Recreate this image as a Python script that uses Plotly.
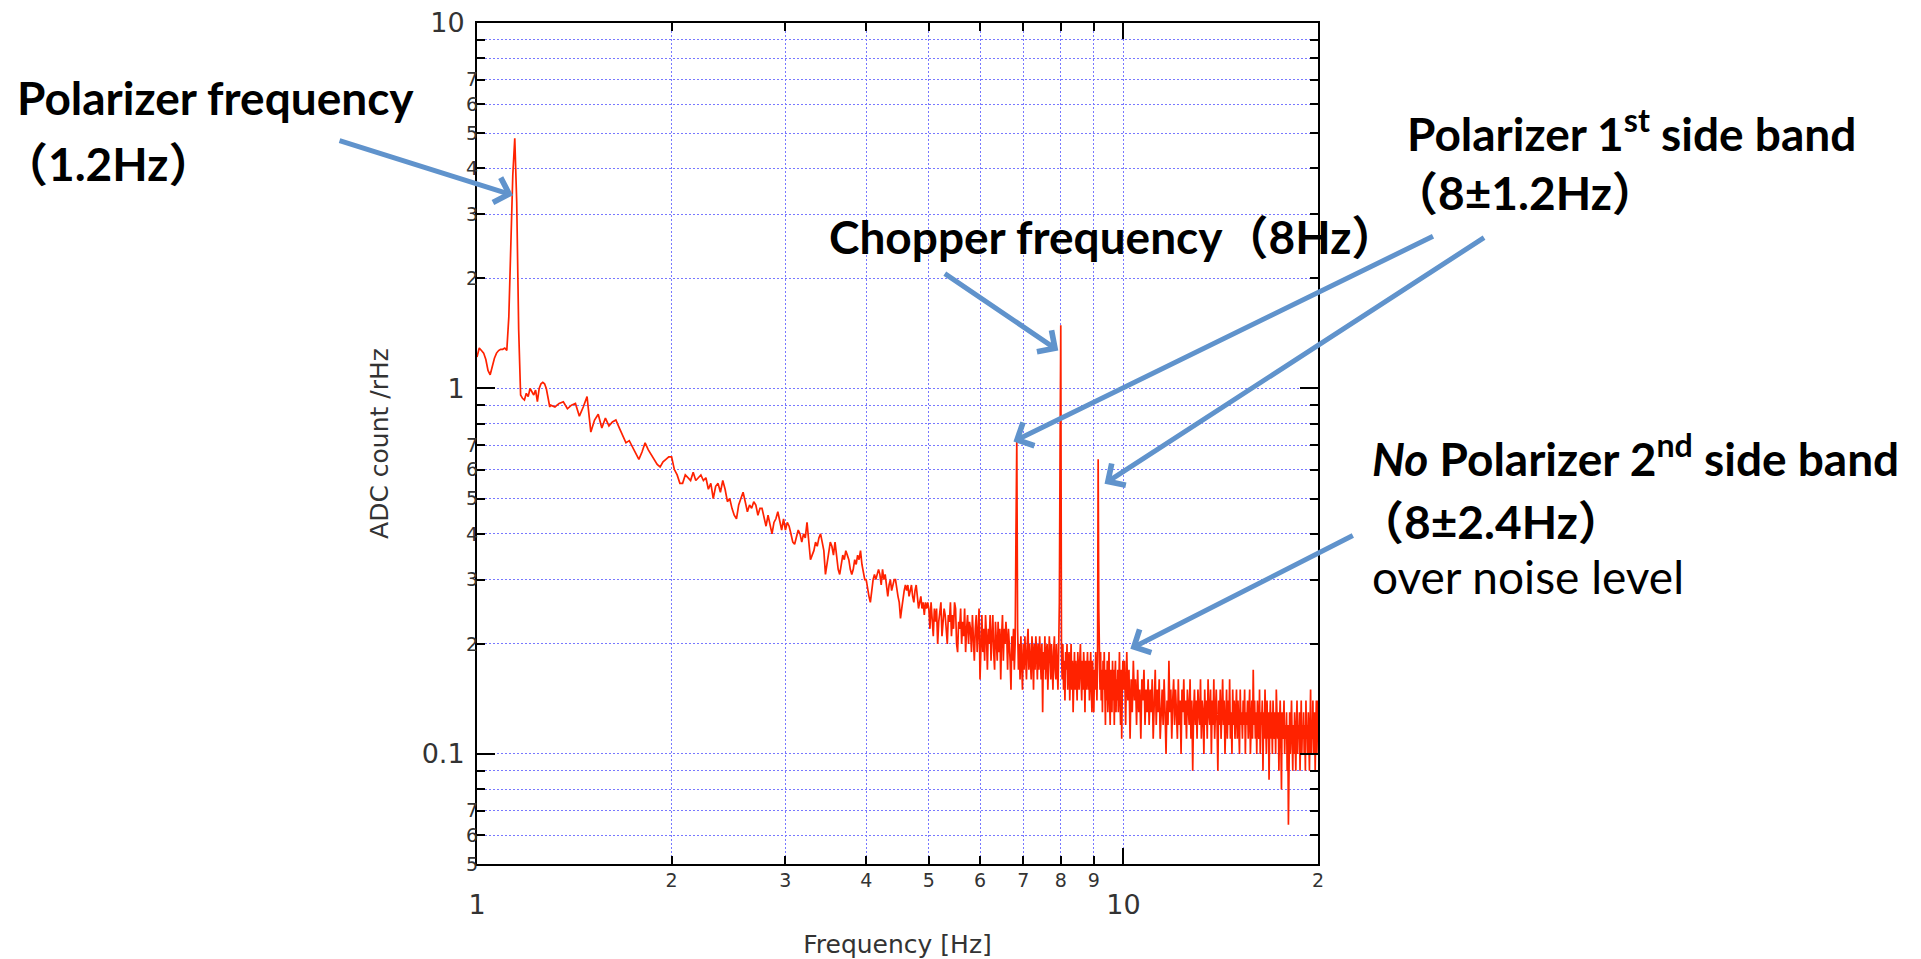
import numpy as np
import plotly.graph_objects as go

# ---------------- data ----------------
# amplitude spectrum, ADC count / rHz, on regular frequency grids
seg0_start, seg0_step = 1.00, 0.008   # fine bins around the polarizer line
amp_seg0 = [1.22, 1.29, 1.27, 1.25, 1.20, 1.12, 1.09, 1.15, 1.21, 1.25,
            1.27, 1.28, 1.28, 1.29, 1.27, 1.57, 2.45, 3.84, 4.84, 3.24,
            1.45, 0.96, 0.94, 0.93, 0.97, 0.95, 1.00, 0.98, 0.96, 0.99,
            0.92, 1.00, 1.03, 1.04, 1.03, 1.00, 0.93, 0.89]

seg1_start, seg1_step = 1.30, 0.02
amp_seg1 = [0.90, 0.89, 0.91, 0.92, 0.88, 0.90, 0.91, 0.84, 0.89, 0.95,
            0.76, 0.82, 0.85, 0.78, 0.83, 0.79, 0.81, 0.82, 0.78, 0.74,
            0.71, 0.72, 0.69, 0.66, 0.64, 0.67, 0.71, 0.68, 0.66, 0.64,
            0.62, 0.61, 0.63, 0.64, 0.65]

seg2_start, seg2_step = 2.00, 0.02
amp_seg2 = [0.65, 0.60, 0.58, 0.55, 0.55, 0.58, 0.57, 0.56, 0.59, 0.56,
            0.57, 0.58, 0.56, 0.57, 0.53, 0.55, 0.50, 0.54, 0.55, 0.52,
            0.56, 0.53, 0.49, 0.50, 0.47, 0.45, 0.44, 0.48, 0.50, 0.52,
            0.49, 0.46, 0.48, 0.47, 0.49, 0.48, 0.45, 0.47, 0.47, 0.44,
            0.42, 0.45, 0.42, 0.40, 0.43, 0.44, 0.46, 0.43, 0.41, 0.44,
            0.41, 0.43, 0.42, 0.40, 0.38, 0.375, 0.39, 0.41, 0.40, 0.38,
            0.40, 0.39, 0.43, 0.37, 0.34, 0.35, 0.36, 0.38, 0.37, 0.39,
            0.40, 0.38, 0.36, 0.31, 0.33, 0.36, 0.38, 0.37, 0.35, 0.38,
            0.34, 0.32, 0.31, 0.33, 0.35, 0.34, 0.36, 0.35, 0.34, 0.32,
            0.31, 0.32, 0.34, 0.33, 0.35, 0.34, 0.36, 0.33, 0.31, 0.30,
            0.30, 0.28, 0.27, 0.26, 0.28, 0.30, 0.31, 0.30, 0.31, 0.32,
            0.31, 0.29, 0.32, 0.30, 0.31, 0.29, 0.27, 0.29, 0.30, 0.28,
            0.29, 0.30, 0.30, 0.28, 0.27, 0.26, 0.235, 0.25, 0.27, 0.28,
            0.29, 0.28, 0.29, 0.27, 0.28, 0.29, 0.27, 0.26, 0.28, 0.29,
            0.27, 0.25, 0.26, 0.27, 0.25, 0.26, 0.24, 0.26, 0.25, 0.26]

seg3_start, seg3_step = 5.00, 0.02
amp_seg3 = [0.25, 0.22, 0.26, 0.24, 0.21, 0.25, 0.23, 0.25, 0.20, 0.23,
            0.25, 0.26, 0.21, 0.23, 0.25, 0.24, 0.21, 0.20, 0.24, 0.23,
            0.26, 0.21, 0.24, 0.22, 0.26, 0.25, 0.20, 0.19, 0.23, 0.22,
            0.25, 0.20, 0.23, 0.21, 0.25, 0.19, 0.22, 0.24, 0.20, 0.23,
            0.22, 0.19, 0.24, 0.21, 0.18, 0.22, 0.24, 0.19, 0.22, 0.25,
            0.16, 0.21, 0.24, 0.19, 0.22, 0.18, 0.24, 0.21, 0.17, 0.22,
            0.20, 0.24, 0.18, 0.21, 0.24, 0.19, 0.17, 0.23, 0.21, 0.18,
            0.23, 0.19, 0.22, 0.16, 0.21, 0.24, 0.18, 0.22, 0.20, 0.23,
            0.21, 0.17, 0.22, 0.20, 0.18, 0.15, 0.21, 0.18, 0.22, 0.17,
            0.20, 0.40, 0.72, 0.22, 0.17, 0.20, 0.16, 0.21, 0.18, 0.15,
            0.20, 0.17, 0.21, 0.19, 0.16, 0.20, 0.22, 0.17, 0.20, 0.18,
            0.16, 0.21, 0.19, 0.15, 0.20, 0.17, 0.21, 0.19, 0.16, 0.20,
            0.17, 0.21, 0.19, 0.16, 0.20, 0.13, 0.19, 0.17, 0.21, 0.16,
            0.19, 0.20, 0.15, 0.18, 0.21, 0.19, 0.16, 0.20, 0.17, 0.15,
            0.19, 0.21, 0.17, 0.16, 0.20, 0.18, 0.15, 0.19, 0.26, 0.66,
            1.49, 0.19, 0.16, 0.20, 0.15, 0.18, 0.14, 0.19, 0.17, 0.20,
            0.15, 0.18, 0.19, 0.14, 0.17, 0.20, 0.15, 0.18, 0.13, 0.17,
            0.19, 0.15, 0.18, 0.16, 0.14, 0.19, 0.17, 0.15, 0.18, 0.20,
            0.16, 0.14, 0.18, 0.15, 0.19, 0.17, 0.13, 0.18, 0.15, 0.17,
            0.19, 0.15, 0.18, 0.14, 0.17, 0.19, 0.15, 0.13, 0.18, 0.16,
            0.13, 0.17, 0.15, 0.19, 0.16, 0.14, 0.18, 0.64, 0.25, 0.17,
            0.15, 0.19, 0.14, 0.17, 0.13, 0.18, 0.15, 0.19, 0.14, 0.12,
            0.17, 0.14, 0.18, 0.13, 0.16, 0.19, 0.14, 0.12, 0.17, 0.15,
            0.13, 0.18, 0.14, 0.17, 0.12, 0.16, 0.18, 0.13, 0.16, 0.14,
            0.17, 0.13, 0.16, 0.19, 0.14, 0.12, 0.17, 0.11, 0.15, 0.18]

seg4_start, seg4_step = 10.00, 0.04
amp_seg4 = [0.15, 0.18, 0.12, 0.19, 0.14, 0.17, 0.11, 0.16, 0.13, 0.18, 0.14, 0.16, 0.12,
            0.17, 0.13, 0.15, 0.11, 0.16, 0.14, 0.17, 0.12, 0.15, 0.13, 0.16, 0.12,
            0.15, 0.13, 0.16, 0.11, 0.14, 0.17, 0.12, 0.15, 0.13, 0.16, 0.11, 0.14, 0.15,
            0.12, 0.16, 0.13, 0.10, 0.14, 0.12, 0.18, 0.13, 0.15, 0.11, 0.14, 0.16,
            0.12, 0.15, 0.13, 0.11, 0.16, 0.12, 0.14, 0.10, 0.15, 0.13, 0.16, 0.12, 0.14,
            0.11, 0.15, 0.13, 0.12, 0.16, 0.11, 0.14, 0.09, 0.13, 0.15, 0.12, 0.14,
            0.11, 0.15, 0.13, 0.12, 0.16, 0.11, 0.14, 0.13, 0.10, 0.15, 0.12, 0.14, 0.11,
            0.16, 0.13, 0.12, 0.15, 0.10, 0.14, 0.12, 0.16, 0.11, 0.13, 0.15, 0.12,
            0.09, 0.14, 0.12, 0.15, 0.11, 0.13, 0.16, 0.12, 0.14, 0.10, 0.13, 0.15, 0.11,
            0.14, 0.12, 0.16, 0.11, 0.13, 0.10, 0.15, 0.12, 0.14, 0.11, 0.13, 0.15,
            0.11, 0.14, 0.12, 0.10, 0.15, 0.12, 0.13, 0.11, 0.14, 0.12, 0.15, 0.10, 0.13,
            0.12, 0.14, 0.11, 0.13, 0.15, 0.10, 0.12, 0.14, 0.11, 0.17, 0.12, 0.14,
            0.11, 0.13, 0.10, 0.14, 0.12, 0.11, 0.15, 0.10, 0.13, 0.12, 0.14, 0.09, 0.13,
            0.11, 0.15, 0.12, 0.10, 0.14, 0.11, 0.13, 0.085, 0.12, 0.14, 0.11, 0.13,
            0.10, 0.14, 0.12, 0.11, 0.13, 0.10, 0.15, 0.12, 0.11, 0.13, 0.09, 0.12, 0.14,
            0.11, 0.08, 0.13, 0.11, 0.12, 0.14, 0.10, 0.12, 0.11, 0.13, 0.09, 0.12,
            0.064, 0.11, 0.13, 0.10, 0.12, 0.14, 0.11, 0.09, 0.12, 0.10, 0.13, 0.11, 0.09,
            0.12, 0.14, 0.10, 0.12, 0.11, 0.13, 0.09, 0.11, 0.14, 0.10, 0.12, 0.11,
            0.13, 0.10, 0.12, 0.09, 0.14, 0.11, 0.12, 0.10, 0.13, 0.11, 0.09, 0.12, 0.15,
            0.10, 0.12, 0.11, 0.14, 0.10, 0.12, 0.13, 0.09, 0.11, 0.14, 0.10, 0.12,
            0.14]

segments = [(seg0_start, seg0_step, amp_seg0), (seg1_start, seg1_step, amp_seg1),
            (seg2_start, seg2_step, amp_seg2), (seg3_start, seg3_step, amp_seg3),
            (seg4_start, seg4_step, amp_seg4)]

# axis ticks
x_major = [1, 10]
x_major_text = ["1", "10"]
x_minor = [2, 3, 4, 5, 6, 7, 8, 9, 20]
x_minor_text = ["2", "3", "4", "5", "6", "7", "8", "9", "2"]
y_major = [0.1, 1, 10]
y_major_text = ["0.1", "1", "10"]
y_minor = [0.06, 0.07, 0.08, 0.09, 0.2, 0.3, 0.4, 0.5, 0.6, 0.7, 0.8, 0.9,
           2, 3, 4, 5, 6, 7, 8, 9]
y_minor_lab = [0.05, 0.06, 0.07, 0.2, 0.3, 0.4, 0.5, 0.6, 0.7, 2, 3, 4, 5, 6, 7]
y_minor_lab_text = ["5", "6", "7", "2", "3", "4", "5", "6", "7", "2", "3", "4", "5", "6", "7"]

# ---------------- build ----------------
freq = np.concatenate([s + d * np.arange(len(a)) for s, d, a in segments])
amp = np.concatenate([np.array(a, dtype=float) for s, d, a in segments])

W, H = 1921, 959
L, R, T, B = 477, 603, 23, 95
PW, PH = W - L - R, H - T - B

def px(x):
    return (x - L) / PW

def py(y):
    return (H - B - y) / PH

GRID = "#7878ff"
GDASH = "2px,2px"
TICKC = "#333333"
TFONT = "DejaVu Sans"
AFONT = "Lato, 'Noto Sans CJK JP', sans-serif"

fig = go.Figure()
fig.add_trace(go.Scatter(x=freq, y=amp, mode="lines",
                         line=dict(color="#ff2200", width=1.7),
                         showlegend=False, hoverinfo="x+y"))
# carrier for the small minor-digit tick labels
fig.add_trace(go.Scatter(x=[], y=[], xaxis="x2", yaxis="y2", showlegend=False))

xr = [0, np.log10(20)]
yr = [np.log10(0.05), 1]

common_line = dict(showline=True, linecolor="black", linewidth=2, zeroline=False,
                   automargin=False)

fig.update_layout(
    width=W, height=H, autosize=False,
    margin=dict(l=L, r=R, t=T, b=B, pad=0),
    paper_bgcolor="white", plot_bgcolor="white",
    showlegend=False,
    xaxis=dict(type="log", range=xr, tickmode="array", tickvals=x_major, ticktext=x_major_text,
               ticks="inside", ticklen=16, tickwidth=2, tickcolor="black",
               mirror="allticks", showgrid=True, gridcolor=GRID, griddash=GDASH, gridwidth=1,
               tickfont=dict(family=TFONT, size=27, color=TICKC), ticklabelstandoff=16,
               minor=dict(tickmode="array", tickvals=x_minor, ticks="inside", ticklen=8,
                          tickwidth=1.5, tickcolor="black", showgrid=True, gridcolor=GRID,
                          griddash=GDASH, gridwidth=1),
               title=dict(text="Frequency [Hz]", font=dict(family=TFONT, size=25, color=TICKC),
                          standoff=21),
               **common_line),
    yaxis=dict(type="log", range=yr, tickmode="array", tickvals=y_major, ticktext=y_major_text,
               ticks="inside", ticklen=18, tickwidth=2, tickcolor="black",
               mirror="allticks", showgrid=True, gridcolor=GRID, griddash=GDASH, gridwidth=1,
               tickfont=dict(family=TFONT, size=27, color=TICKC), ticklabelstandoff=5,
               minor=dict(tickmode="array", tickvals=y_minor, ticks="inside", ticklen=8,
                          tickwidth=1.5, tickcolor="black", showgrid=True, gridcolor=GRID,
                          griddash=GDASH, gridwidth=1),
               title=dict(text="ADC count /rHz", font=dict(family=TFONT, size=25, color=TICKC),
                          standoff=26),
               **common_line),
    xaxis2=dict(type="log", range=xr, overlaying="x", anchor="y2", side="bottom",
                tickmode="array", tickvals=x_minor, ticktext=x_minor_text, ticks="",
                showgrid=False, showline=False, zeroline=False, automargin=False,
                tickfont=dict(family=TFONT, size=19, color=TICKC), ticklabelstandoff=3),
    yaxis2=dict(type="log", range=yr, overlaying="y", anchor="x2", side="left",
                tickmode="array", tickvals=y_minor_lab, ticktext=y_minor_lab_text, ticks="",
                showgrid=False, showline=False, zeroline=False, automargin=False,
                tickfont=dict(family=TFONT, size=19, color=TICKC), ticklabelstandoff=-2),
)

# ---------------- text annotations ----------------
texts = [
    ("<b>Polarizer frequency</b>", 15, 97),
    ("<b>（1.2Hz）</b>", 0, 163),
    ("<b>Chopper frequency（8Hz）</b>", 827, 236),
    ("<b>Polarizer 1<sup>st</sup> side band</b>", 1405, 130),
    ("<b>（8±1.2Hz）</b>", 1390, 192),
    ("<b><i>No</i> Polarizer 2<sup>nd</sup> side band</b>", 1370, 455),
    ("<b>（8±2.4Hz）</b>", 1356, 521),
    ("over noise level", 1370, 576),
]
for t, x0, y0 in texts:
    fig.add_annotation(text=t, xref="paper", yref="paper", x=px(x0), y=py(y0),
                       xanchor="left", yanchor="middle", showarrow=False,
                       font=dict(family=AFONT, size=46, color="black"))

# ---------------- arrows (tip in data coordinates, tail offset in px) ----------------
ARROWC = "#6093cc"
arrow_tips = [
    (1.137, 3.38, -175, -55),
    (7.93, 1.27, -115, -78),
    (6.76, 0.716, 421, -206),
    (9.35, 0.549, 381, -247),
    (10.25, 0.194, 224, -114),
]
for fx, fy, axp, ayp in arrow_tips:
    fig.add_annotation(x=np.log10(fx), y=np.log10(fy), xref="x", yref="y",
                       ax=axp, ay=ayp, axref="pixel", ayref="pixel", text="",
                       showarrow=True, arrowhead=4, arrowsize=1.0, arrowwidth=5,
                       arrowcolor=ARROWC, standoff=0)

fig.write_html("out.html", config={"displayModeBar": False},
               post_script="document.body.style.margin='0';document.body.style.overflow='hidden';")
